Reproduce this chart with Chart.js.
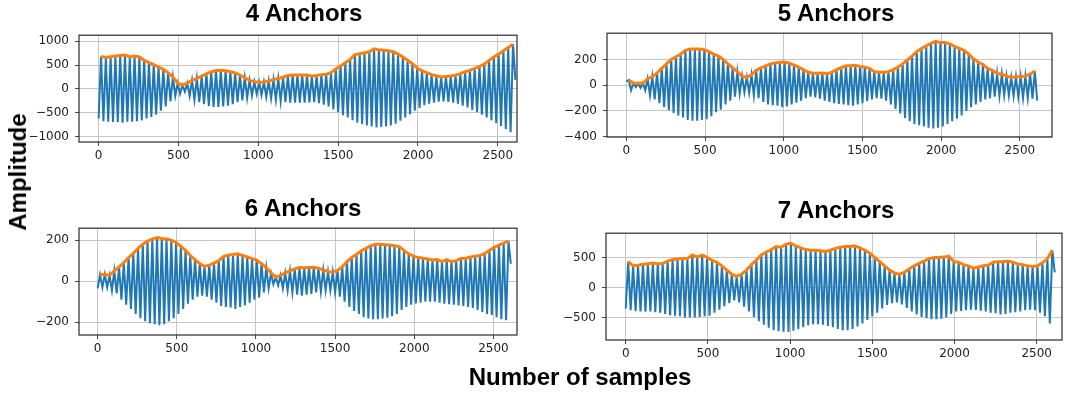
<!DOCTYPE html>
<html>
<head>
<meta charset="utf-8">
<script src="https://cdn.jsdelivr.net/npm/chart.js@4.4.1/dist/chart.umd.min.js"></script>
<style>
  body { margin: 0; background: #fff; }
  #page { position: relative; width: 1066px; height: 394px; overflow: hidden; font-family: 'Liberation Sans', Arial, sans-serif; }
  #page canvas { position: absolute; }
  .title, .label { position: absolute; font-weight: bold; color: #000; white-space: nowrap; transform: translate(-50%, -50%); }
  .title { font-size: 24px; }
  .label { font-size: 24px; }
</style>
</head>
<body>
<div id="page">
  <canvas id="c4"></canvas>
  <canvas id="c5"></canvas>
  <canvas id="c6"></canvas>
  <canvas id="c7"></canvas>
  <div class="title" style="left:304px;top:13px">4 Anchors</div>
  <div class="title" style="left:836px;top:13px">5 Anchors</div>
  <div class="title" style="left:303px;top:208px">6 Anchors</div>
  <div class="title" style="left:836px;top:210px">7 Anchors</div>
  <div class="label" style="left:18px;top:172px;transform:translate(-50%,-50%) rotate(-90deg)">Amplitude</div>
  <div class="label" style="left:580px;top:377px">Number of samples</div>
</div>
<script>
'use strict';

// one oscillation cycle = 30 samples; lower[] are the troughs (plus the last sample),
// upper[] are the peaks, which the orange envelope follows
const PERIOD = 30;

const upper4 = [680, 660, 675, 690, 700, 710, 670, 690, 670, 600,
  550, 510, 460, 410, 340, 250, 120, 80, 120, 180,
  220, 270, 320, 355, 385, 390, 380, 360, 335, 290,
  235, 180, 150, 140, 145, 165, 195, 220, 245, 280,
  290, 290, 290, 290, 270, 280, 300, 310, 340, 420,
  480, 550, 620, 720, 740, 760, 780, 840, 820, 810,
  800, 780, 730, 670, 600, 530, 440, 380, 340, 300,
  275, 250, 260, 270, 290, 320, 360, 390, 430, 470,
  520, 600, 670, 730, 800, 870, 940];
const lower4 = [-620, -680, -690, -695, -700, -710, -690, -690, -680, -660,
  -620, -590, -540, -460, -370, -260, -150, -100, -60, -150,
  -230, -280, -320, -360, -380, -380, -370, -350, -320, -280,
  -240, -190, -140, -110, -130, -170, -200, -230, -260, -280,
  -290, -290, -290, -290, -285, -280, -300, -330, -370, -430,
  -490, -550, -600, -660, -710, -740, -770, -790, -810, -800,
  -790, -770, -730, -670, -600, -530, -460, -400, -340, -310,
  -290, -270, -260, -275, -290, -310, -350, -390, -440, -490,
  -540, -600, -660, -720, -780, -840, -910, 190];

const upper5 = [40, 15, 15, 15, 50, 65, 95, 130, 165, 200,
  220, 240, 270, 280, 280, 280, 275, 260, 240, 225,
  200, 165, 135, 105, 70, 60, 80, 115, 135, 150,
  165, 172, 178, 180, 170, 155, 140, 120, 100, 92,
  92, 95, 88, 100, 120, 135, 150, 150, 155, 145,
  140, 130, 105, 100, 100, 105, 120, 140, 165, 195,
  225, 260, 285, 305, 325, 340, 330, 330, 320, 300,
  285, 270, 240, 205, 180, 160, 130, 115, 90, 85,
  70, 60, 65, 65, 70, 85, 110];
const lower5 = [30, -40, -15, -20, -40, -80, -110, -140, -170, -195,
  -215, -235, -250, -270, -275, -275, -270, -265, -240, -210,
  -190, -150, -120, -90, -65, -55, -60, -80, -100, -130,
  -150, -155, -160, -170, -165, -150, -135, -120, -100, -90,
  -95, -105, -120, -130, -140, -145, -150, -155, -160, -150,
  -140, -125, -110, -100, -105, -120, -150, -185, -220, -255,
  -280, -300, -310, -320, -330, -335, -330, -320, -300, -280,
  -260, -235, -200, -170, -150, -130, -110, -100, -90, -85,
  -80, -80, -85, -90, -100, -100, -105, -120];

const upper6 = [32, 33, 28, 50, 70, 90, 115, 135, 160, 180,
  195, 205, 213, 208, 205, 200, 188, 170, 150, 125,
  105, 85, 72, 78, 88, 100, 120, 128, 130, 133,
  125, 118, 110, 103, 85, 65, 40, 20, 28, 40,
  50, 60, 67, 65, 67, 68, 63, 55, 46, 45,
  52, 70, 95, 115, 130, 148, 160, 172, 180, 180,
  178, 176, 173, 168, 150, 133, 122, 115, 112, 108,
  103, 105, 95, 105, 95, 100, 110, 112, 118, 122,
  125, 135, 150, 165, 175, 185, 195];
const lower6 = [-35, -30, -30, -45, -60, -90, -115, -135, -160, -180,
  -195, -205, -210, -215, -210, -195, -180, -160, -135, -110,
  -90, -75, -70, -75, -90, -105, -120, -125, -128, -135,
  -125, -118, -105, -90, -80, -55, -35, -15, -20, -35,
  -45, -55, -65, -70, -65, -62, -55, -50, -45, -45,
  -55, -75, -100, -125, -145, -160, -175, -182, -185, -185,
  -182, -178, -170, -160, -140, -125, -115, -108, -105, -100,
  -100, -100, -105, -110, -112, -115, -118, -120, -125, -130,
  -140, -150, -160, -165, -175, -185, -190, 85];

const upper7 = [430, 360, 370, 385, 395, 405, 395, 400, 440, 465,
  475, 480, 480, 540, 510, 540, 500, 450, 420, 360,
  290, 220, 185, 220, 290, 380, 460, 540, 590, 630,
  680, 670, 720, 735, 690, 660, 630, 620, 620, 610,
  600, 620, 650, 670, 680, 680, 690, 660, 620, 570,
  500, 430, 360, 290, 240, 220, 250, 310, 360, 400,
  440, 480, 500, 500, 505, 520, 430, 420, 380, 360,
  320, 340, 360, 370, 420, 430, 430, 440, 420, 390,
  380, 360, 350, 360, 410, 480, 620];
const lower7 = [-350, -380, -395, -400, -405, -400, -410, -420, -440, -460,
  -470, -480, -500, -500, -500, -490, -480, -470, -420, -370,
  -310, -260, -215, -250, -320, -400, -490, -560, -620, -670,
  -710, -730, -735, -740, -720, -690, -660, -630, -610, -610,
  -620, -640, -660, -690, -710, -710, -690, -650, -600, -540,
  -480, -420, -350, -290, -260, -250, -280, -340, -400, -450,
  -490, -510, -530, -530, -520, -500, -440, -400, -390, -380,
  -370, -375, -385, -400, -420, -430, -450, -440, -420, -410,
  -400, -380, -370, -380, -420, -480, -600, 250];

// tick labels
const xTicks = [0, 500, 1000, 1500, 2000, 2500];
const yTicks4 = [-1000, -500, 0, 500, 1000];
const yTicks5 = [-400, -200, 0, 200];
const yTicks6 = [-200, 0, 200];
const yTicks7 = [-500, 0, 500];

// layout of each subplot: plot area [left, top, right, bottom] in page pixels
const panels = [
  { id: 'c4', upper: upper4, lower: lower4, yTicks: yTicks4, area: [79, 25, 517, 142], xr: [-123, 2620], yr: [-1115, 1128] },
  { id: 'c5', upper: upper5, lower: lower5, yTicks: yTicks5, area: [607, 23, 1052, 137], xr: [-123, 2704], yr: [-402, 403] },
  { id: 'c6', upper: upper6, lower: lower6, yTicks: yTicks6, area: [79, 218, 517, 335], xr: [-118, 2649], yr: [-262, 258] },
  { id: 'c7', upper: upper7, lower: lower7, yTicks: yTicks7, area: [606, 223, 1062, 340], xr: [-120, 2654], yr: [-874, 903] },
];

const Y_W = 60;
const X_H = 26;
const PAD = 3;

// matplotlib-like box round the plot area
const frame = {
  id: 'frame',
  afterDatasetsDraw(chart) {
    const a = chart.chartArea;
    const c = chart.ctx;
    c.save();
    c.strokeStyle = '#2a2a2a';
    c.lineWidth = 1.2;
    c.strokeRect(a.left, a.top, a.right - a.left, a.bottom - a.top);
    c.restore();
  },
};

function signal(upper, lower) {
  const pts = [];
  lower.forEach((v, i) => {
    pts.push({ x: i * PERIOD, y: v });
    if (i < upper.length) pts.push({ x: i * PERIOD + PERIOD / 2, y: upper[i] });
  });
  return pts;
}

function envelope(upper) {
  return upper.map((v, i) => ({ x: i * PERIOD + PERIOD / 2, y: v }));
}

function fmt(v) {
  return String(v).replace('-', '\u2212');
}

function fixedTicks(list) {
  return (scale) => {
    scale.ticks = list.map((v) => ({ value: v }));
  };
}

function drawPanel(p) {
  const [l, t, r, b] = p.area;
  const cv = document.getElementById(p.id);
  const w = Y_W + (r - l) + PAD;
  const h = PAD + (b - t) + X_H;
  cv.width = w;
  cv.height = h;
  cv.style.left = (l - Y_W) + 'px';
  cv.style.top = (t - PAD) + 'px';
  cv.style.width = w + 'px';
  cv.style.height = h + 'px';

  const tickFont = { family: "'DejaVu Sans', sans-serif", size: 12 };
  const grid = { color: '#c0c0c0', lineWidth: 0.9, tickLength: 4, tickColor: '#333' };

  new Chart(cv, {
    type: 'line',
    data: {
      datasets: [
        {
          data: envelope(p.upper),
          borderColor: '#ff7f0e',
          borderWidth: 3,
          pointRadius: 0,
          tension: 0,
          order: 1,
        },
        {
          data: signal(p.upper, p.lower),
          borderColor: '#1f77b4',
          borderWidth: 2,
          pointRadius: 0,
          tension: 0,
          order: 2,
        },
      ],
    },
    options: {
      responsive: false,
      animation: false,
      events: [],
      layout: { padding: { top: PAD, right: PAD, left: 0, bottom: 0 } },
      plugins: { legend: { display: false }, tooltip: { enabled: false } },
      scales: {
        x: {
          type: 'linear',
          min: p.xr[0],
          max: p.xr[1],
          afterFit: (s) => { s.height = X_H; },
          afterBuildTicks: fixedTicks(xTicks),
          grid: grid,
          border: { display: false },
          ticks: { font: tickFont, color: '#222', padding: 3, maxRotation: 0, autoSkip: false, callback: fmt },
        },
        y: {
          min: p.yr[0],
          max: p.yr[1],
          afterFit: (s) => { s.width = Y_W; },
          afterBuildTicks: fixedTicks(p.yTicks),
          grid: grid,
          border: { display: false },
          ticks: { font: tickFont, color: '#222', padding: 6, autoSkip: false, callback: fmt },
        },
      },
    },
    plugins: [frame],
  });
}

panels.forEach(drawPanel);
</script>
</body>
</html>
